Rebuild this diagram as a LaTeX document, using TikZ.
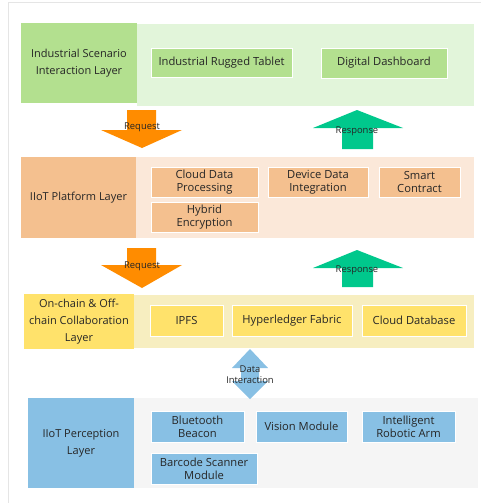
\documentclass[tikz,border=0pt]{standalone}
\usepackage{fontspec}
\setmainfont{Open Sans}
\definecolor{txt}{HTML}{262626}
\definecolor{gL}{HTML}{B3E08F}
\definecolor{gB}{HTML}{E2F5DA}
\definecolor{oL}{HTML}{F4C08F}
\definecolor{oB}{HTML}{FBE8D9}
\definecolor{yL}{HTML}{FFE26B}
\definecolor{yB}{HTML}{F7EEC0}
\definecolor{bL}{HTML}{88C0E4}
\definecolor{bB}{HTML}{F5F5F5}
\definecolor{reqC}{HTML}{FF8C00}
\definecolor{resC}{HTML}{00C88C}
\begin{document}
\begin{tikzpicture}[x=1pt,y=-1pt,
  box/.style={anchor=north west, inner sep=0pt, outer sep=0pt, align=center, text=txt, font=\fontsize{11}{16.8}\selectfont},
  bg/.style={anchor=north west, inner sep=0pt, outer sep=0pt},
  item/.style={box, draw=white, line width=0.4pt, font=\fontsize{11.2}{13.3}\selectfont},
  albl/.style={inner sep=0pt, text=txt, font=\fontsize{9.4}{11}\selectfont, align=center}]
\useasboundingbox (0,0) rectangle (481,503);
\draw[black!10, line width=1.2pt] (8.5,503) -- (8.5,2.5) -- (481,2.5);
% Layer 1
\node[bg, fill=gB, minimum width=337pt, minimum height=82pt] (bg1) at (137,24) {};
\node[box, fill=gL, minimum width=116pt, minimum height=80pt] (L1) at (21,23) {Industrial Scenario\\Interaction Layer};
\node[item, fill=gL, minimum width=141pt, minimum height=29pt] (t1) at (151,48) {Industrial Rugged Tablet};
\node[item, fill=gL, minimum width=126pt, minimum height=30pt] (t2) at (321,48) {Digital Dashboard};
% Arrows 1
\fill[reqC] (127,110) -- (156,110) -- (156,130) -- (182,130) -- (142,148) -- (101,130) -- (127,130) -- cycle;
\node[albl] (rq1) at (142,127.5) {Request};
\fill[resC] (357,110) -- (403,128) -- (373,128) -- (373,149) -- (342,149) -- (342,128) -- (313,128) -- cycle;
\node[albl] (rs1) at (357,131.5) {Response};
% Layer 2
\node[bg, fill=oB, minimum width=338pt, minimum height=81pt] (bg2) at (136,157) {};
\node[box, fill=oL, minimum width=115pt, minimum height=81pt] (L2) at (21,157) {IIoT Platform Layer};
\node[item, fill=oL, minimum width=107pt, minimum height=30pt] (p1) at (151,167) {Cloud Data\\Processing};
\node[item, fill=oL, minimum width=100pt, minimum height=30pt] (p2) at (268,167) {Device Data\\Integration};
\node[item, fill=oL, minimum width=81pt, minimum height=30pt] (p3) at (379,167) {Smart\\Contract};
\node[item, fill=oL, minimum width=107pt, minimum height=30pt] (p4) at (151,202) {Hybrid\\Encryption};
% Arrows 2
\fill[reqC] (127,248) -- (156,248) -- (156,265) -- (182,265) -- (142,288) -- (101,265) -- (127,265) -- cycle;
\node[albl] (rq2) at (142,266) {Request};
\fill[resC] (357,250) -- (403,268) -- (373,268) -- (373,287) -- (342,287) -- (342,268) -- (313,268) -- cycle;
\node[albl] (rs2) at (357,270) {Response};
% Layer 3
\node[bg, fill=yB, minimum width=340pt, minimum height=53pt] (bg3) at (134,295) {};
\node[box, fill=yL, minimum width=110pt, minimum height=55pt] (L3) at (24,294) {On-chain \& Off-\\chain Collaboration\\Layer};
\node[item, fill=yL, minimum width=73pt, minimum height=31pt] (c1) at (150,305) {IPFS};
\node[item, fill=yL, minimum width=120pt, minimum height=31pt] (c2) at (232,305) {Hyperledger Fabric};
\node[item, fill=yL, minimum width=104pt, minimum height=31pt] (c3) at (362,305) {Cloud Database};
% Layer 4
\node[bg, fill=bB, minimum width=344pt, minimum height=90pt] (bg4) at (134,398) {};
\node[box, fill=bL, minimum width=106pt, minimum height=90pt] (L4) at (28,398) {IIoT Perception\\Layer};
\node[item, fill=bL, minimum width=93pt, minimum height=31pt] (s1) at (151,411) {Bluetooth\\Beacon};
\node[item, fill=bL, minimum width=91pt, minimum height=31pt] (s2) at (256,411) {Vision Module};
\node[item, fill=bL, minimum width=93pt, minimum height=31pt] (s3) at (362,411) {Intelligent\\Robotic Arm};
\node[item, fill=bL, minimum width=106pt, minimum height=31pt] (s4) at (151,453) {Barcode Scanner\\Module};
% Double arrow
\fill[bL] (250,349) -- (268,368) -- (259,368) -- (259,381) -- (268,381) -- (250,399) -- (232,381) -- (241,381) -- (241,368) -- (232,368) -- cycle;
\node[albl] (di) at (250,374.5) {Data\\Interaction};
\end{tikzpicture}
\end{document}
